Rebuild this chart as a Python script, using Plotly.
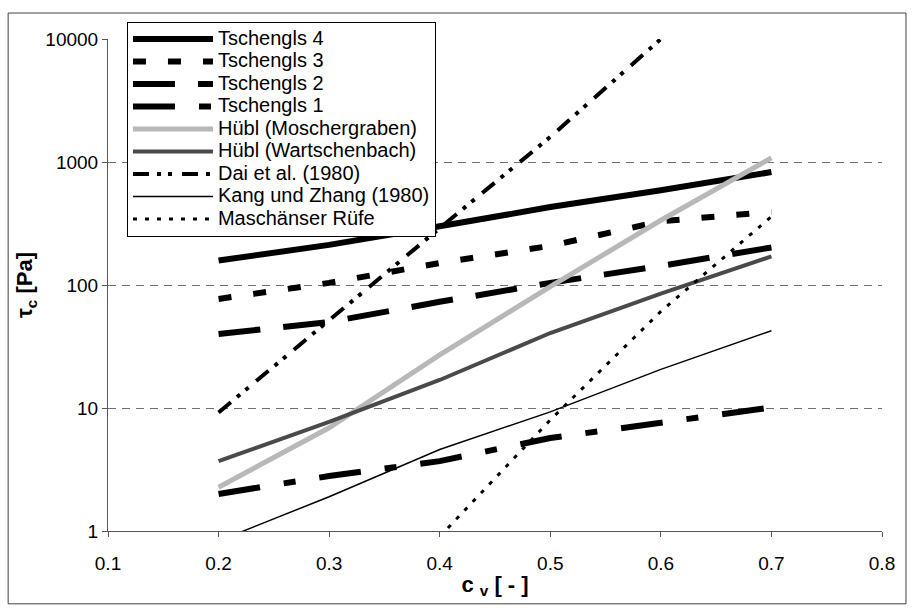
import plotly.graph_objects as go

cv = [0.2, 0.3, 0.4, 0.5, 0.6, 0.7]
tschengls4 = [158, 212, 300, 430, 590, 828]
tschengls3 = [77, 104, 151, 208, 330, 393]
tschengls2 = [40, 50, 73, 104, 143, 202]
tschengls1 = [2.0, 2.8, 3.7, 5.7, 7.6, 10.1]
huebl_mosch = [2.27, 6.9, 27, 97, 336, 1080]
huebl_wart = [3.7, 7.7, 16.9, 40.7, 85, 171]
cv_dai = [0.2, 0.3, 0.4, 0.5, 0.6]
dai = [9.2, 52, 290, 1600, 10000]
kang = [0.83, 1.9, 4.6, 9.3, 20.6, 42.5]
cv_masch = [0.4, 0.5, 0.6, 0.7]
masch = [0.9, 8.0, 61, 360]

y_ticks = [1, 10, 100, 1000, 10000]
y_ticktext = ["1", "10", "100", "1000", "10000"]
x_ticks = [0.1, 0.2, 0.3, 0.4, 0.5, 0.6, 0.7, 0.8]

FONT = "Liberation Sans, Arial, sans-serif"
LEG_TXT = 20

series = [
    ("Tschengls 4", cv, tschengls4, dict(color="black", width=6, dash="solid")),
    ("Tschengls 3", cv, tschengls3, dict(color="black", width=6, dash="13px,22px")),
    ("Tschengls 2", cv, tschengls2, dict(color="black", width=6, dash="42px,23px")),
    ("Tschengls 1", cv, tschengls1, dict(color="black", width=6, dash="42px,24px,12px,24px")),
    ("Hübl (Moschergraben)", cv, huebl_mosch, dict(color="#b8b8b8", width=5, dash="solid")),
    ("Hübl (Wartschenbach)", cv, huebl_wart, dict(color="#4a4a4a", width=4, dash="solid")),
    ("Dai et al. (1980)", cv_dai, dai, dict(color="black", width=4, dash="16px,8px,4px,7px,4px,10px")),
    ("Kang und Zhang (1980)", cv, kang, dict(color="black", width=1.5, dash="solid")),
    ("Maschänser Rüfe", cv_masch, masch, dict(color="black", width=3, dash="4px,8px")),
]

fig = go.Figure()
for name, xs, ys, line in series:
    fig.add_trace(go.Scatter(
        x=xs, y=ys, mode="lines",
        name=f'<span style="font-size:{LEG_TXT}px">{name}</span>',
        line=line))

fig.update_layout(
    width=915, height=608,
    margin=dict(l=108, r=33, t=39, b=77),
    paper_bgcolor="white", plot_bgcolor="white",
    font=dict(family=FONT, size=17, color="black"),
    showlegend=True,
    legend=dict(
        x=0.0245, y=1.035, xanchor="left", yanchor="top",
        bgcolor="white", bordercolor="black", borderwidth=1,
        font=dict(family=FONT, size=15, color="black"),
        itemwidth=80, traceorder="normal",
    ),
)

fig.update_xaxes(
    range=[0.1, 0.8], tickvals=x_ticks, tickformat=".1f",
    showgrid=False, zeroline=False,
    showline=True, linecolor="#555555", linewidth=1,
    ticks="outside", ticklen=5, tickcolor="#555555",
    ticklabelstandoff=10,
    tickfont=dict(family=FONT, size=19, color="black"),
    title=dict(text="<b>c <sub>v</sub> [ - ]</b>", font=dict(family=FONT, size=22, color="black"), standoff=3),
)
fig.update_yaxes(
    type="log", range=[0, 4], tickvals=y_ticks, ticktext=y_ticktext,
    showgrid=True, gridcolor="#707070", gridwidth=1, griddash="8px,6px",
    zeroline=False,
    showline=True, linecolor="#555555", linewidth=1,
    ticks="outside", ticklen=5, tickcolor="#555555",
    tickfont=dict(family=FONT, size=19, color="black"),
    title=dict(text="<b>τ<sub>c</sub> [Pa]</b>", font=dict(family=FONT, size=22, color="black"), standoff=6),
)

# outer chart border
fig.add_shape(type="rect", xref="paper", yref="paper",
              x0=-0.129, x1=1.031, y0=-0.148, y1=1.0528,
              line=dict(color="#404040", width=1), fillcolor="rgba(0,0,0,0)", layer="below")

fig.write_html("out.html")
